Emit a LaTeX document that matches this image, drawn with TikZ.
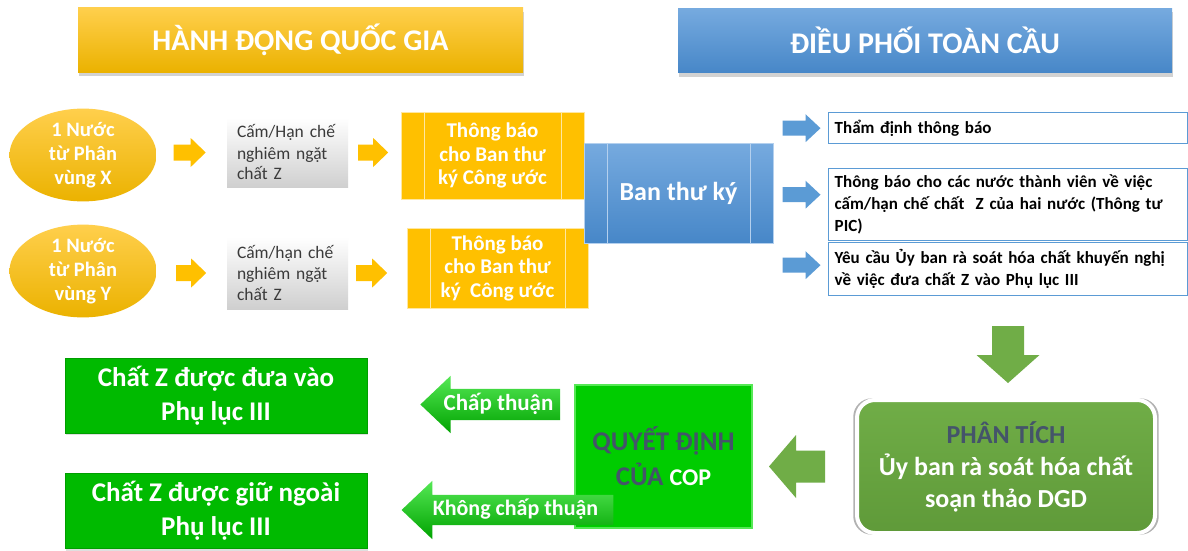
\documentclass[tikz,border=0pt]{standalone}
\usepackage{fontspec}
\setmainfont{Carlito}
\usetikzlibrary{arrows.meta, positioning, backgrounds, calc, shapes.geometric, shapes.arrows, shadows}
\definecolor{cGold}   {HTML}{FFC000}
\definecolor{cGoldLt} {HTML}{FFCF4C}
\definecolor{cGoldDk} {HTML}{EBB200}
\definecolor{cGoldLn} {HTML}{FFE7A0}
\definecolor{cSky}    {HTML}{5B9BD5}
\definecolor{cSkyLt}  {HTML}{76AADF}
\definecolor{cSkyDk}  {HTML}{4787C8}
\definecolor{cSkyLn}  {HTML}{B4D0EE}
\definecolor{cOlive}  {HTML}{70AD47}
\definecolor{cOliveDk}{HTML}{5F9A39}
\definecolor{cLime}   {HTML}{00CC00}
\definecolor{cLimeLt} {HTML}{55E855}
\definecolor{cLimeDk} {HTML}{00A300}
\definecolor{cLeaf}   {HTML}{00BA00}
\definecolor{cSlate}  {HTML}{44546A}
\definecolor{cInk}    {HTML}{3A3A3A}
\definecolor{cMist}   {HTML}{CFCFCF}

\begin{document}
\begin{tikzpicture}[x=1pt, y=-1pt,
  hdr/.style 2 args={top color=#1, bottom color=#2, minimum height=64pt,
    text=white, font=\fontsize{30}{34}\selectfont\bfseries,
    drop shadow={shadow xshift=1pt, shadow yshift=-4pt, opacity=.35}},
  land/.style={ellipse, top color=cGoldLt, bottom color=cGoldDk,
    minimum width=147pt, minimum height=92pt, inner sep=0pt, align=center,
    text=white, font=\fontsize{20.5}{24}\selectfont\bfseries},
  ban/.style={top color=white, bottom color=cMist, minimum height=70pt,
    text width=101pt, inner xsep=10pt, align=left, text=cInk,
    font=\fontsize{17.5}{21}\selectfont},
  proc/.style={path picture={\draw[#1, line width=1pt]
    ([xshift=23pt]path picture bounding box.north west) --
    ([xshift=23pt]path picture bounding box.south west)
    ([xshift=-23pt]path picture bounding box.north east) --
    ([xshift=-23pt]path picture bounding box.south east);}},
  note/.style={fill=cGold, draw=cGoldLn, line width=1pt, proc=cGoldLn,
    minimum width=183pt, align=center, text=white,
    font=\fontsize{21}{23.5}\selectfont\bfseries},
  sec/.style={top color=cSkyLt, bottom color=cSkyDk, draw=cSkyLn,
    line width=1pt, proc=cSkyLn, minimum width=189pt, minimum height=100pt,
    text=white, font=\fontsize{26}{30}\selectfont\bfseries},
  chk/.style={anchor=north west, draw=cSky, line width=1.4pt, fill=white,
    text width=347pt, inner xsep=6pt, align=left, text=black,
    font=\fontsize{17}{22}\selectfont\bfseries},
  ana/.style={rounded corners=18pt, top color=cOlive, bottom color=cOliveDk,
    draw=white, line width=4pt, minimum width=298pt, minimum height=133pt,
    align=center, text=white, font=\fontsize{26}{32}\selectfont\bfseries,
    general shadow={fill=black, shadow scale=1.025, opacity=.3}},
  dec/.style={fill=cLime, draw=cLimeLt, line width=2pt, minimum width=177pt,
    minimum height=143pt, align=center, text=cSlate,
    font=\fontsize{27}{35}\selectfont\bfseries},
  res/.style={fill=cLeaf, draw=cLeaf!85!black, line width=.8pt,
    minimum width=302pt, minimum height=75pt, align=center, text=white,
    font=\fontsize{27}{34}\selectfont\bfseries,
    drop shadow={shadow xshift=1pt, shadow yshift=-2pt, opacity=.25}},
  vote/.style={single arrow, shape border rotate=180,
    single arrow tip angle=87, top color=cLimeLt, bottom color=cLimeDk,
    text=white, text depth=6pt, inner ysep=4pt},
  yarr/.style={fill=cGold},
  barr/.style={fill=cSky},
  garr/.style={fill=cOlive},
  pics/blk/.style n args={4}{code={%
    \fill (0,-#2) -- (#1,-#2) -- (#1,-#3) -- (#1+#4,0)
      -- (#1,#3) -- (#1,#2) -- (0,#2) -- cycle;}},
]
\useasboundingbox[fill=white] (0,0) rectangle (1188,551);

%% ── Headers ───────────────────────────────────────────────────────────
\node[hdr={cGoldLt}{cGoldDk}, minimum width=445pt] (natl) at (300.5,40)
  {HÀNH ĐỘNG QUỐC GIA};
\node[hdr={cSkyLt}{cSkyDk}, minimum width=494pt] (glob) at (925,40.5)
  {ĐIỀU PHỐI TOÀN CẦU};

%% ── Country X ─────────────────────────────────────────────────────────
\node[land] (ellX) at (83,155) {1 Nước\\từ Phân\\vùng X};
\node[ban] (banX) at (287.5,152.5) {Cấm/Hạn chế\\nghiêm ngặt\\chất Z};
\node[note, minimum height=87pt] (notX) at (492.5,155.5)
  {Thông báo\\cho Ban thư\\ký Công ước};

%% ── Country Y ─────────────────────────────────────────────────────────
\node[land] (ellY) at (83,271) {1 Nước\\từ Phân\\vùng Y};
\node[ban, minimum height=72pt] (banY) at (287.5,273)
  {Cấm/hạn chế\\nghiêm ngặt\\chất Z};
\node[note, minimum width=181pt, minimum height=80pt] (notY) at (497.5,268)
  {Thông báo\\cho Ban thư\\ký~~Công ước};

%% ── Secretariat and its tasks ─────────────────────────────────────────
\node[sec] (sec) at (678.5,193) {Ban thư ký};
\node[chk, minimum height=31pt] (chk1) at (828,112) {Thẩm định thông báo};
\node[chk, minimum height=72pt] (chk2) at (828,168)
  {Thông báo cho các nước thành viên về việc\\
   cấm/hạn chế chất~ Z của hai nước (Thông tư\\PIC)};
\node[chk, minimum height=53pt] (chk3) at (828,242)
  {Yêu cầu Ủy ban rà soát hóa chất khuyến nghị\\
   về việc đưa chất Z vào Phụ lục III};

%% ── Review and decision ───────────────────────────────────────────────
\node[ana] (ana) at (1006,466.5)
  {\textcolor{cSlate}{PHÂN TÍCH}\\Ủy ban rà soát hóa chất\\soạn thảo DGD};
\node[dec] (dec) at (663.5,456.5)
  {QUYẾT ĐỊNH\\CỦA {\color{white}\fontsize{24}{35}\selectfont COP}};
\node[res] (res1) at (216,395.5) {Chất Z được đưa vào\\Phụ lục III};
\node[res] (res2) at (216,511) {Chất Z được giữ ngoài\\Phụ lục III};

%% ── Decision arrows (drawn over the decision box) ─────────────────────
\node[vote, single arrow head extend=13pt, text height=17pt, inner xsep=6.5pt,
  font=\fontsize{23}{26}\selectfont\bfseries] (yes) at (498.5,404.5)
  {Chấp thuận};
\node[vote, single arrow head extend=14pt, text height=16pt, inner xsep=15pt,
  font=\fontsize{22}{26}\selectfont\bfseries] (no) at (515.5,510)
  {Không chấp thuận};

%% ── Block arrows ──────────────────────────────────────────────────────
\pic[yarr] at ($(ellX.east |- banX)+(17,0)$) {blk={17}{8}{14.5}{15}};
\pic[yarr] at ($(banX.east)+(10,0)$) {blk={15}{8}{14.5}{15}};
\pic[yarr] at ($(ellY.east |- banY)+(19.5,0)$) {blk={15}{8}{14.5}{15}};
\pic[yarr] at ($(banY.east)+(8,0)$) {blk={16}{8}{14.5}{15}};

\pic[barr] at ($(sec.east |- chk1.west)+(9,0)$) {blk={23}{7.5}{14}{15}};
\pic[barr] at ($(sec.east |- chk2.west)+(9,-10)$) {blk={23}{7.5}{14}{15}};
\pic[barr] at ($(sec.east |- chk3.west)+(9,-4)$) {blk={23}{7.5}{14}{15}};

\pic[garr, rotate=-90] at ($(ana.north)+(2,-72)$) {blk={29}{16}{31.5}{28}};
\pic[garr, rotate=180] at ($(ana.west)+(-30,0)$) {blk={29}{16}{31.5}{27}};

\end{tikzpicture}
\end{document}
